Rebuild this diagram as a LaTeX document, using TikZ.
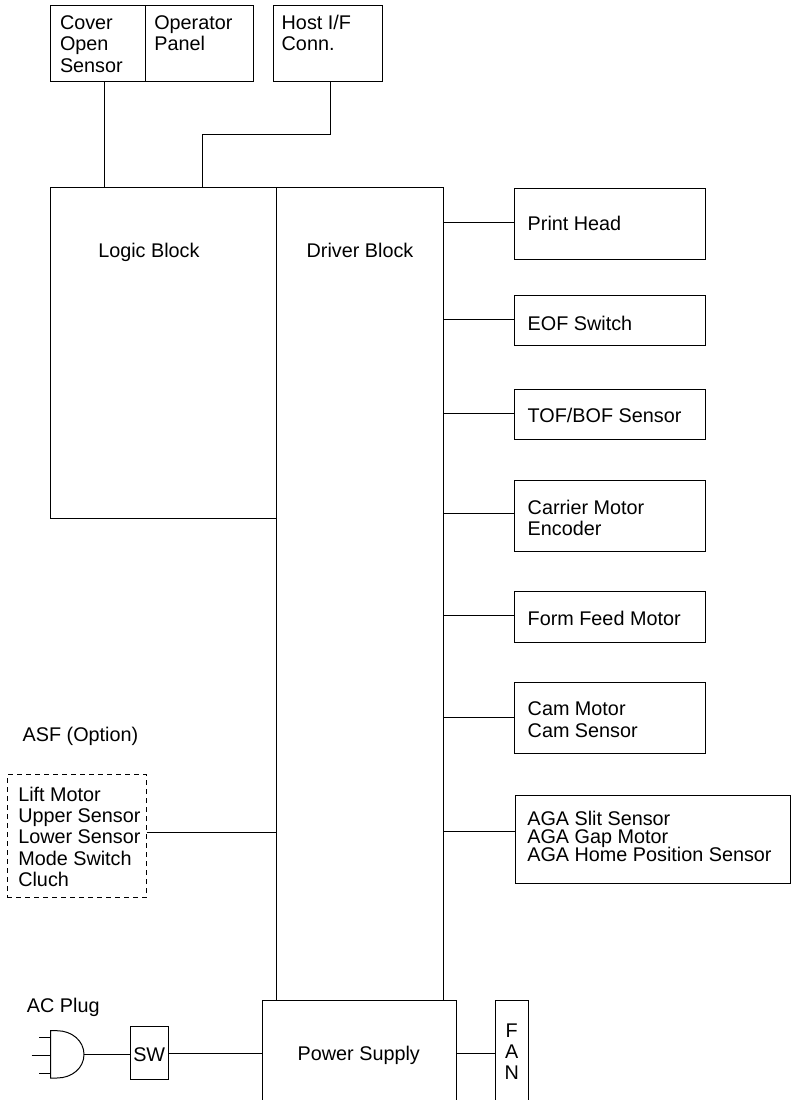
\documentclass[tikz,border=0pt]{standalone}
\usepackage{fontspec}
\setmainfont{Liberation Sans}
\newcommand\tightskip{\lineskiplimit=-20pt\relax}
\begin{document}
\begin{tikzpicture}[x=1pt,y=-1pt,
  box/.style={draw,line width=1pt,inner sep=0pt,outer sep=0pt},
  dbox/.style={box,dash pattern=on 5pt off 4pt},
  lbl/.style={inner sep=0pt,outer sep=0pt,anchor=base west,align=left,
    font={\fontsize{19.8}{21.4}\selectfont\tightskip}},
  tight/.style={font={\fontsize{19.8}{17.7}\selectfont\tightskip}},
  wire/.style={line width=1pt}]
\useasboundingbox (0,0) rectangle (791,1100);
% top boxes
\node[box,minimum width=94.7pt,minimum height=76pt] (cover) at (98.3,43.7) {};
\node[box,minimum width=108.3pt,minimum height=76pt] (oper) at (199.8,43.7) {};
\node[box,minimum width=109pt,minimum height=76pt] (host) at (327.8,43.7) {};
% main blocks
\node[box,minimum width=225.7pt,minimum height=330.7pt] (logic) at (163.8,352.7) {};
\node[box,minimum width=167.3pt,minimum height=812.7pt] (driver) at (360.3,593.7) {};
\node[box,minimum width=194.4pt,minimum height=105pt] (power) at (359.5,1052.5) {};
\node[box,minimum width=33.3pt,minimum height=105pt] (fan) at (512.3,1052.5) {};
\node[box,minimum width=37.6pt,minimum height=52.6pt] (sw) at (149.5,1053) {};
% right boxes
\node[box,minimum width=190.7pt,minimum height=70.6pt] (ph) at (610.3,224) {};
\node[box,minimum width=190.7pt,minimum height=50.3pt] (eof) at (610.3,320.8) {};
\node[box,minimum width=190.7pt,minimum height=50.3pt] (tof) at (610.3,414.2) {};
\node[box,minimum width=190.7pt,minimum height=70.7pt] (car) at (610.3,516.3) {};
\node[box,minimum width=190.7pt,minimum height=50.6pt] (ffm) at (610.3,617) {};
\node[box,minimum width=190.7pt,minimum height=71pt] (cam) at (610.3,717.8) {};
\node[box,minimum width=275pt,minimum height=88.3pt] (aga) at (652.5,839.2) {};
% ASF
\node[dbox,minimum width=139.4pt,minimum height=122.7pt] (asf) at (77,836.3) {};
% labels (multi-line labels are anchored at the baseline of their last line)
\node[lbl] (tcover) at (60,72.1) {Cover\\Open\\Sensor};
\node[lbl] (toper) at (154.3,50.7) {Operator\\Panel};
\node[lbl] (thost) at (281.7,50.7) {Host I/F\\Conn.};
\node[lbl] (tlogic) at (98.3,257.3) {Logic Block};
\node[lbl] (tdriver) at (306.7,257.3) {Driver Block};
\node[lbl] (tph) at (527.7,230) {Print Head};
\node[lbl] (teof) at (527.7,330.3) {EOF Switch};
\node[lbl] (ttof) at (527.7,422.7) {TOF/BOF Sensor};
\node[lbl] (tcar) at (527.7,535.7) {Carrier Motor\\Encoder};
\node[lbl] (tffm) at (527.7,625) {Form Feed Motor};
\node[lbl,font={\fontsize{19.8}{22.3}\selectfont\tightskip}] (tcam) at (527.7,737.3) {Cam Motor\\Cam Sensor};
\node[lbl,tight] (taga) at (527.3,861.1) {AGA Slit Sensor\\AGA Gap Motor\\AGA Home Position Sensor};
\node[lbl] (tasfh) at (22.7,741.7) {ASF (Option)};
\node[lbl,font={\fontsize{19.8}{21.1}\selectfont\tightskip}] (tasf) at (18.3,886.1) {Lift Motor\\Upper Sensor\\Lower Sensor\\Mode Switch\\Cluch};
\node[lbl] (tac) at (27,1012) {AC Plug};
\node[lbl,anchor=base] (tsw) at (149.2,1061.7) {SW};
\node[lbl] (tps) at (297.7,1060.7) {Power Supply};
\node[lbl,anchor=base,align=center,font={\fontsize{19.8}{21.3}\selectfont\tightskip}] (tfan) at (511.7,1079.9) {F\\A\\N};
% AC plug shape
\coordinate (plug) at (84,1054.4);
\draw[wire] (50.7,1030.7) -- (57,1030.7) .. controls (72,1030.7) and (84,1041) .. (plug)
  .. controls (84,1068) and (72,1078) .. (57,1078) -- (50.7,1078) -- cycle;
\draw[wire] (39,1037.7) -- (50.7,1037.7);
\draw[wire] (31.7,1055.5) -- (50.7,1055.5);
\draw[wire] (39,1073.7) -- (50.7,1073.7);
% connectors
\draw[wire] ([xshift=6pt]cover.south) -- ([xshift=6pt]cover.south |- logic.north);
\coordinate (hj) at (202,134);
\draw[wire] ([xshift=2.2pt]host.south) |- (hj) -- (hj |- logic.north);
\draw[wire] ([yshift=1.7pt]ph.west) -- ([yshift=1.7pt]ph.west -| driver.east);
\draw[wire] ([yshift=1.1pt]eof.west) -- ([yshift=1.1pt]eof.west -| driver.east);
\draw[wire] ([yshift=1.2pt]tof.west) -- ([yshift=1.2pt]tof.west -| driver.east);
\draw[wire] ([yshift=2.6pt]car.west) -- ([yshift=2.6pt]car.west -| driver.east);
\draw[wire] ([yshift=1.7pt]ffm.west) -- ([yshift=1.7pt]ffm.west -| driver.east);
\draw[wire] (cam.west) -- (cam.west -| driver.east);
\draw[wire] ([yshift=7.5pt]aga.west) -- ([yshift=7.5pt]aga.west -| driver.east);
\draw[wire] ([yshift=3.6pt]asf.east) -- ([yshift=3.6pt]asf.east -| driver.west);
\draw[wire] (plug) -- (plug -| sw.west);
\draw[wire] ([yshift=-0.7pt]sw.east) -- ([yshift=-0.7pt]sw.east -| power.west);
\draw[wire] ([yshift=-0.7pt]sw.east -| power.east) -- ([yshift=-0.7pt]sw.east -| fan.west);
\end{tikzpicture}
\end{document}
